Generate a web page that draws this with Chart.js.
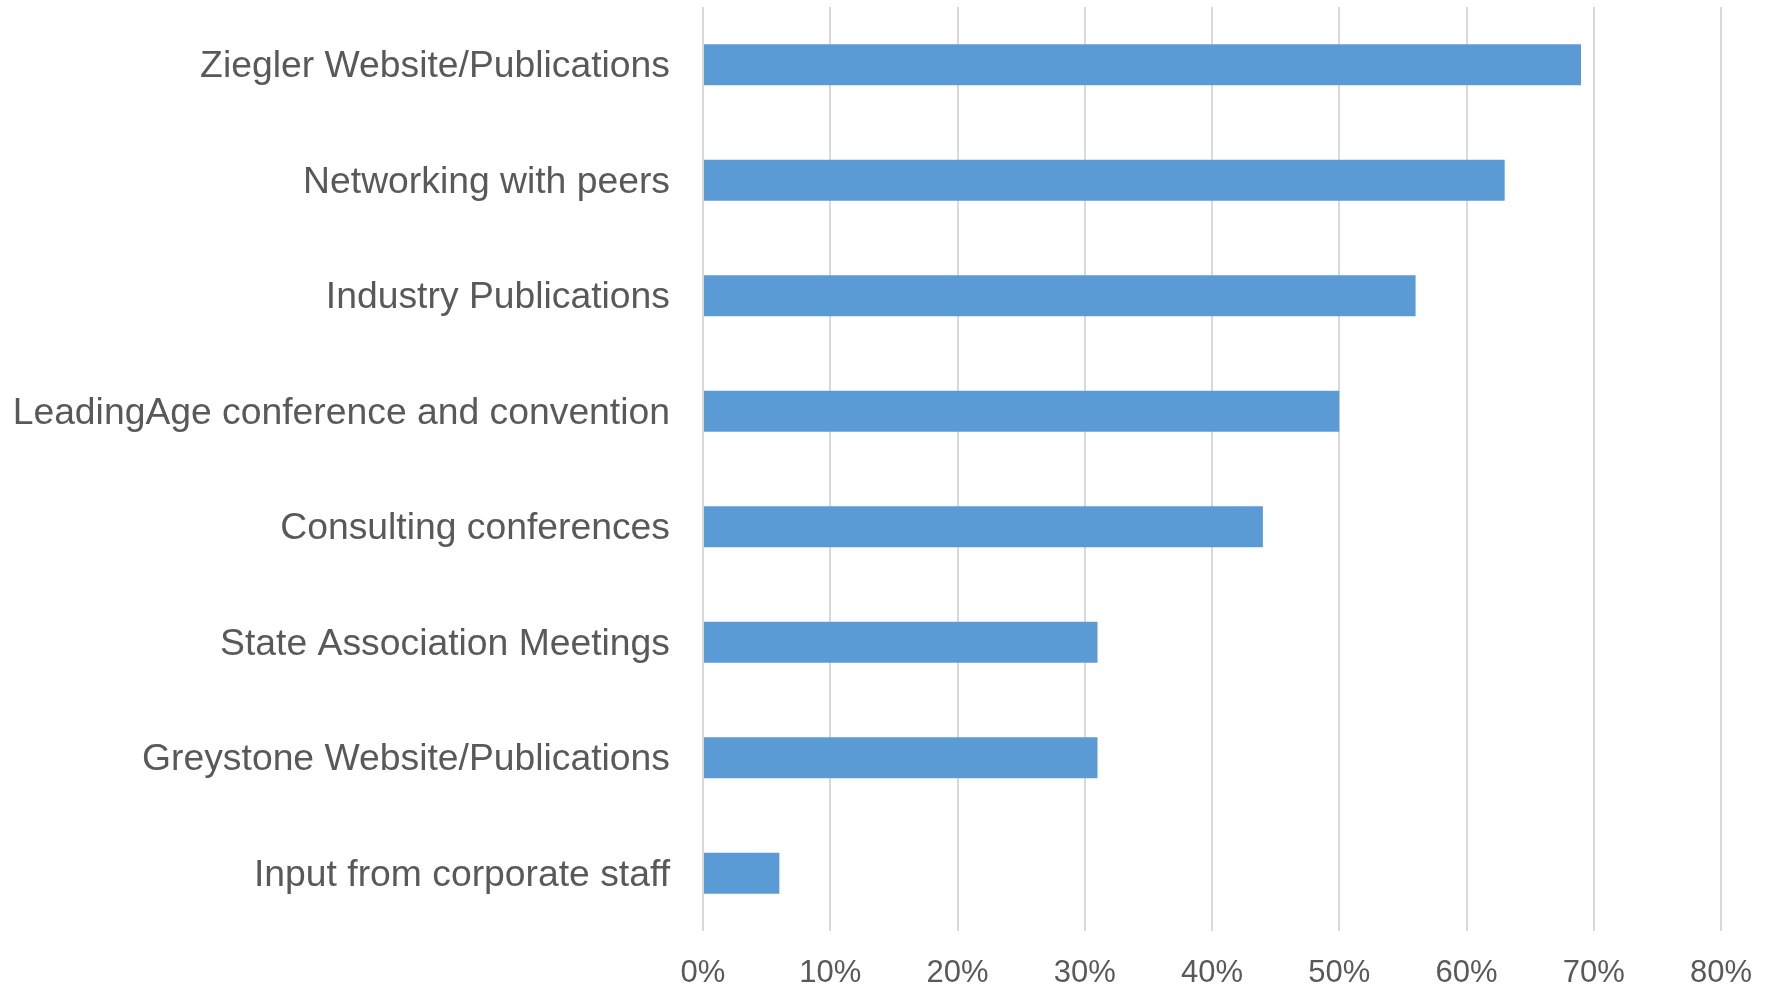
<!DOCTYPE html>
<html>
<head>
<meta charset="utf-8">
<script src="https://cdn.jsdelivr.net/npm/chart.js@4"></script>
<style>
html,body{margin:0;padding:0;background:#fff;}
#wrap{width:1770px;height:985px;position:relative;}
</style>
</head>
<body>
<div id="wrap"><canvas id="c" width="1770" height="985"></canvas></div>
<script>
const categories = [
  "Ziegler Website/Publications",
  "Networking with peers",
  "Industry Publications",
  "LeadingAge conference and convention",
  "Consulting conferences",
  "State Association Meetings",
  "Greystone Website/Publications",
  "Input from corporate staff"
];
const seriesValues = [69, 63, 56, 50, 44, 31, 31, 6];
const tickMin = 0, tickMax = 80, tickStep = 10;

new Chart(document.getElementById('c'), {
  type: 'bar',
  data: {
    labels: categories,
    datasets: [{
      data: seriesValues,
      backgroundColor: '#5b9bd5',
      borderWidth: 0,
      categoryPercentage: 1,
      barPercentage: 0.355
    }]
  },
  options: {
    indexAxis: 'y',
    responsive: false,
    animation: false,
    layout: { padding: { top: 7, right: 49, bottom: 0, left: 0 } },
    plugins: { legend: { display: false }, tooltip: { enabled: false } },
    scales: {
      x: {
        min: tickMin, max: tickMax,
        ticks: {
          stepSize: tickStep,
          callback: v => v + '%',
          color: '#595959',
          font: { family: 'Liberation Sans, Arial, sans-serif', size: 31 },
          padding: 24,
          maxRotation: 0
        },
        grid: { color: '#d9d9d9', lineWidth: 2, drawTicks: false },
        border: { display: false },
        afterFit: s => { s.height = 54; s.paddingLeft = 0; s.paddingRight = 0; }
      },
      y: {
        ticks: {
          color: '#595959',
          font: { family: 'Liberation Sans, Arial, sans-serif', size: 37.3 },
          padding: 33,
          labelOffset: 2
        },
        grid: { display: false, drawTicks: false },
        border: { display: false },
        afterFit: s => { s.width = 703; s.paddingTop = 0; s.paddingBottom = 0; }
      }
    }
  }
});
</script>
</body>
</html>
